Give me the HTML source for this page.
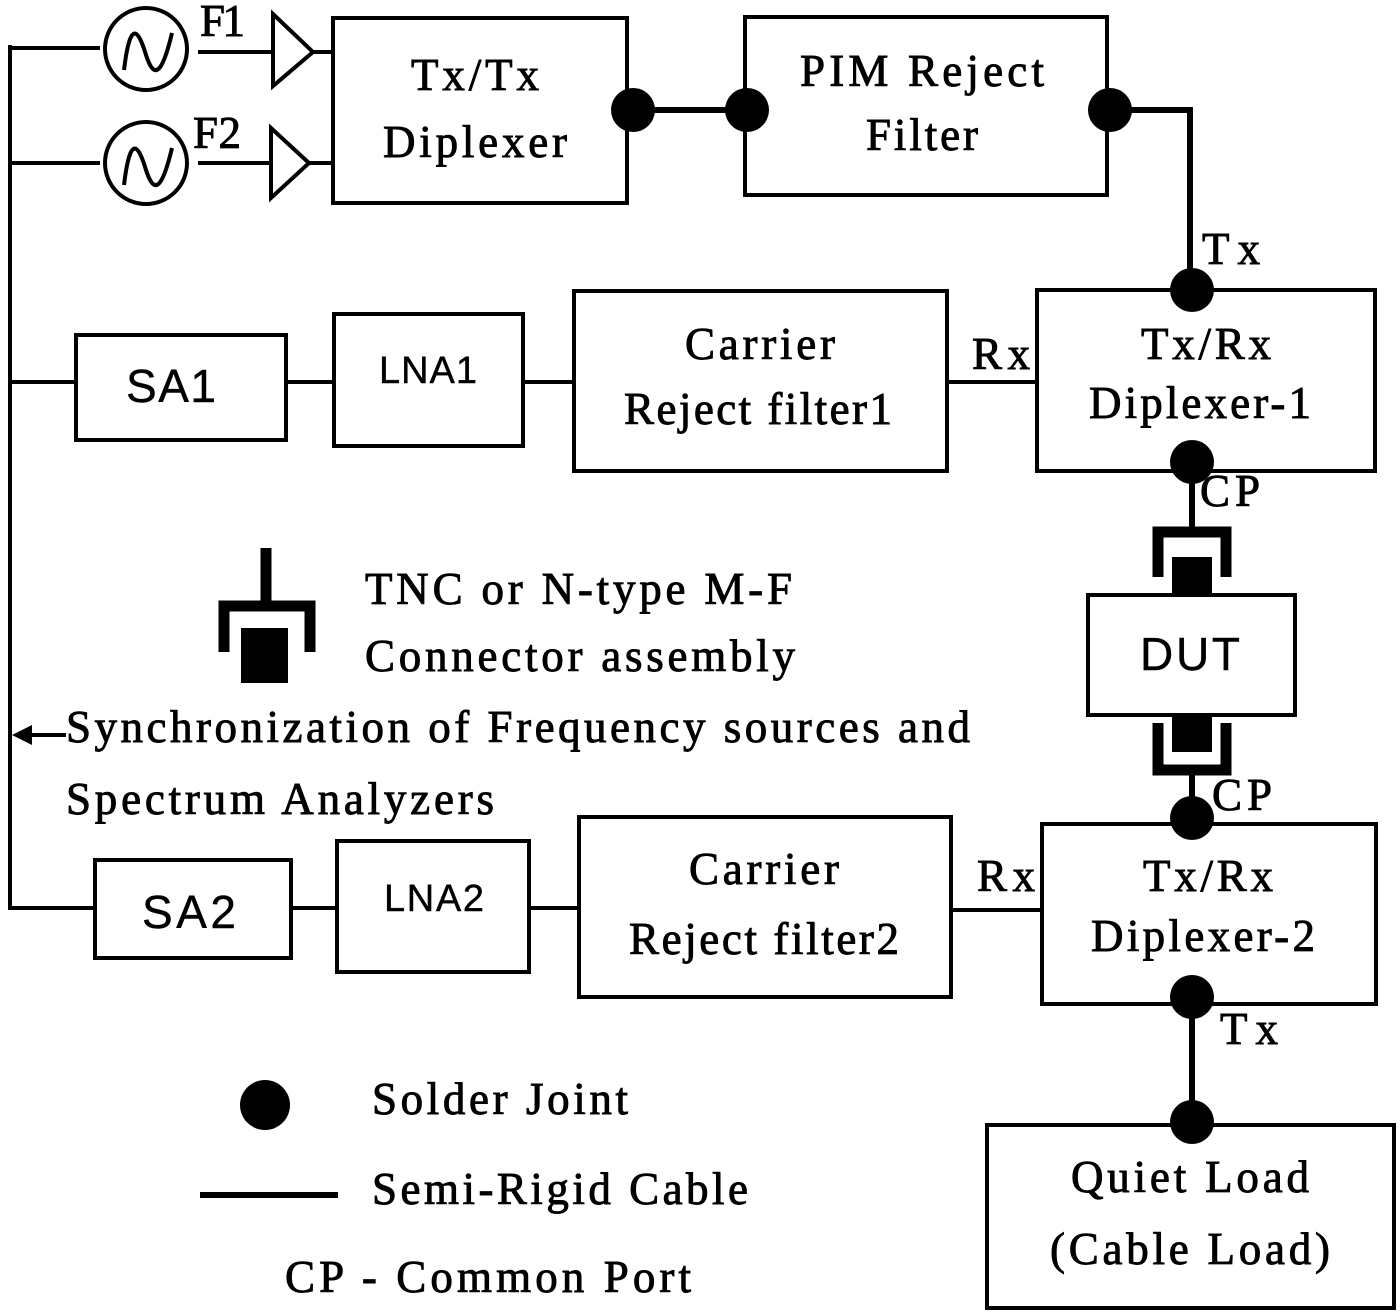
<!DOCTYPE html>
<html><head><meta charset="utf-8"><style>
html,body{margin:0;padding:0;background:#fff;}
svg{display:block;}
text{font-family:"Liberation Sans",serif;font-size:45px;fill:#000;stroke:#000;stroke-width:0.9;}
text{font-family:"Liberation Serif",serif;}
.s{font-family:"Liberation Sans",sans-serif;font-size:46px;stroke-width:0.4;}
.l{font-family:"Liberation Sans",sans-serif;font-size:38px;stroke-width:0.4;}
</style></head><body>
<svg width="1400" height="1313" viewBox="0 0 1400 1313" xmlns="http://www.w3.org/2000/svg">
<g fill="none" stroke="#000" stroke-width="4">
<line x1="10" y1="45" x2="10" y2="910"/>
<line x1="10" y1="48" x2="100" y2="48"/>
<line x1="10" y1="163" x2="100" y2="163"/>
<line x1="10" y1="382" x2="76" y2="382"/>
<line x1="10" y1="908" x2="95" y2="908"/>
<circle cx="146" cy="49" r="41"/>
<circle cx="146" cy="163" r="41"/>
<path d="M124 70 C130 20,138 28,146 55 C154 80,162 75,172 33"/>
<path d="M124 185 C130 135,138 143,146 170 C154 195,162 190,172 148"/>
<line x1="198" y1="52" x2="272" y2="52"/>
<line x1="198" y1="163" x2="270" y2="163"/>
<path d="M273 14 L313 52 L273 86 Z"/>
<path d="M271 128 L309 163 L271 198 Z"/>
<line x1="313" y1="52" x2="333" y2="52"/>
<line x1="309" y1="163" x2="333" y2="163"/>
<rect x="333" y="18" width="294" height="185"/>
<rect x="745" y="17" width="362" height="178"/>
<rect x="1037" y="290" width="338" height="181"/>
<rect x="574" y="291" width="373" height="180"/>
<rect x="334" y="314" width="189" height="132"/>
<rect x="76" y="335" width="210" height="105"/>
<rect x="1088" y="595" width="207" height="120"/>
<rect x="1042" y="824" width="334" height="180"/>
<rect x="579" y="817" width="372" height="180"/>
<rect x="337" y="841" width="192" height="131"/>
<rect x="95" y="860" width="196" height="98"/>
<rect x="987" y="1125" width="407" height="183"/>
<line x1="286" y1="382" x2="334" y2="382"/>
<line x1="523" y1="382" x2="574" y2="382"/>
<line x1="947" y1="382" x2="1037" y2="382"/>
<line x1="291" y1="908" x2="337" y2="908"/>
<line x1="529" y1="908" x2="579" y2="908"/>
<line x1="951" y1="910" x2="1042" y2="910"/>
</g>
<g fill="none" stroke="#000" stroke-width="6">
<line x1="633" y1="110" x2="747" y2="110"/>
<polyline points="1110,110 1190,110 1190,290"/>
<line x1="1192" y1="462" x2="1192" y2="532"/>
<line x1="1192" y1="770" x2="1192" y2="818"/>
<line x1="1192" y1="997" x2="1192" y2="1122"/>
<line x1="200" y1="1195" x2="338" y2="1195"/>
</g>
<g fill="none" stroke="#000" stroke-width="11">
<polyline points="1158,577 1158,532 1226,532 1226,577"/>
<polyline points="1158,723 1158,770 1226,770 1226,723"/>
<line x1="266" y1="548" x2="266" y2="605"/>
<polyline points="224,652 224,606 310,606 310,652"/>
</g>
<g fill="#000">
<circle cx="633" cy="110" r="22"/>
<circle cx="747" cy="110" r="22"/>
<circle cx="1110" cy="110" r="22"/>
<circle cx="1192" cy="290" r="22"/>
<circle cx="1192" cy="462" r="22"/>
<circle cx="1192" cy="818" r="22"/>
<circle cx="1192" cy="997" r="22"/>
<circle cx="1192" cy="1122" r="22"/>
<circle cx="265" cy="1105" r="25"/>
<rect x="1172" y="557" width="40" height="38"/>
<rect x="1172" y="715" width="40" height="37"/>
<rect x="241" y="628" width="47" height="55"/>
<path d="M12 735 L32 725 L32 745 Z"/>
</g>
<line x1="20" y1="735" x2="66" y2="735" stroke="#000" stroke-width="4"/>
<text x="200" y="36" textLength="45">F1</text>
<text x="193" y="148" textLength="48">F2</text>
<text x="475" y="90" text-anchor="middle" textLength="128">Tx/Tx</text>
<text x="475" y="157" text-anchor="middle" textLength="184">Diplexer</text>
<text x="922" y="86" text-anchor="middle" textLength="244">PIM Reject</text>
<text x="922" y="150" text-anchor="middle" textLength="112">Filter</text>
<text x="1202" y="264" textLength="58">Tx</text>
<text x="1206" y="359" text-anchor="middle" textLength="130">Tx/Rx</text>
<text x="1200" y="418" text-anchor="middle" textLength="222">Diplexer-1</text>
<text x="760" y="359" text-anchor="middle" textLength="150">Carrier</text>
<text x="758" y="424" text-anchor="middle" textLength="268">Reject filter1</text>
<text x="972" y="369" textLength="58">Rx</text>
<text class="l" x="428" y="383" text-anchor="middle" textLength="98">LNA1</text>
<text class="s" x="171" y="402" text-anchor="middle" textLength="90">SA1</text>
<text x="1200" y="506" textLength="60">CP</text>
<text class="s" x="1190" y="670" text-anchor="middle" textLength="100">DUT</text>
<text x="1212" y="810" textLength="60">CP</text>
<text x="1208" y="891" text-anchor="middle" textLength="130">Tx/Rx</text>
<text x="1203" y="951" text-anchor="middle" textLength="224">Diplexer-2</text>
<text x="764" y="884" text-anchor="middle" textLength="150">Carrier</text>
<text x="764" y="954" text-anchor="middle" textLength="270">Reject filter2</text>
<text x="977" y="891" textLength="58">Rx</text>
<text class="l" x="434" y="911" text-anchor="middle" textLength="100">LNA2</text>
<text class="s" x="189" y="928" text-anchor="middle" textLength="94">SA2</text>
<text x="1220" y="1044" textLength="58">Tx</text>
<text x="1190" y="1192" text-anchor="middle" textLength="238">Quiet Load</text>
<text x="1190" y="1264" text-anchor="middle" textLength="280">(Cable Load)</text>
<text x="365" y="604" textLength="427">TNC or N-type M-F</text>
<text x="365" y="671" textLength="430">Connector assembly</text>
<text x="66" y="742" textLength="904">Synchronization of Frequency sources and</text>
<text x="66" y="814" textLength="428">Spectrum Analyzers</text>
<text x="372" y="1114" textLength="256">Solder Joint</text>
<text x="372" y="1204" textLength="376">Semi-Rigid Cable</text>
<text x="285" y="1292" textLength="406">CP - Common Port</text>
</svg>
</body></html>
